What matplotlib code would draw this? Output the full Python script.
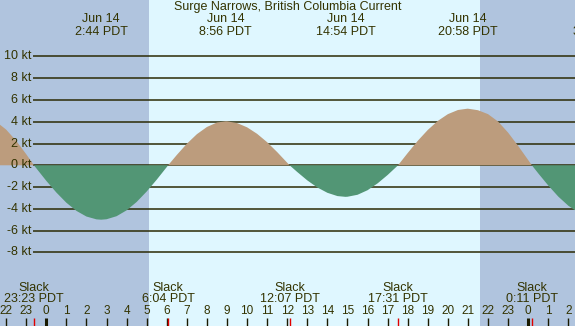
import matplotlib
matplotlib.use("Agg")
import matplotlib.pyplot as plt
import numpy as np

# current speed (kt), hours from Jun 14 00:00 PDT
hours = [-2.5, -2.0, -1.5, -1.0, -0.617, -0.5, 0.0, 0.5, 1.0, 1.5, 2.0, 2.5, 2.733,
         3.0, 3.5, 4.0, 4.5, 5.0, 5.5, 6.0, 6.067, 6.5, 7.0, 7.5, 8.0, 8.5, 8.933,
         9.0, 9.5, 10.0, 10.5, 11.0, 11.5, 12.0, 12.117, 12.5, 13.0, 13.5, 14.0, 14.5,
         14.9, 15.0, 15.5, 16.0, 16.5, 17.0, 17.5, 17.517, 18.0, 18.5, 19.0, 19.5,
         20.0, 20.5, 20.967, 21.0, 21.5, 22.0, 22.5, 23.0, 23.5, 24.0, 24.183, 24.5,
         25.0, 25.5, 26.0, 26.5]
speed = [4.01, 3.28, 2.25, 1.02, 0.0, -0.27, -1.43, -2.50, -3.44, -4.19, -4.71, -4.97, -5.0,
         -4.96, -4.68, -4.14, -3.37, -2.41, -1.32, -0.16, 0.0, 0.95, 1.98, 2.86, 3.52, 3.93, 4.04,
         4.04, 3.88, 3.49, 2.89, 2.12, 1.21, 0.23, 0.0, -0.62, -1.39, -2.04, -2.53, -2.83,
         -2.9, -2.89, -2.71, -2.29, -1.66, -0.89, -0.03, 0.0, 1.13, 2.25, 3.25, 4.08,
         4.70, 5.08, 5.2, 5.20, 5.06, 4.70, 4.02, 3.00, 1.78, 0.48, 0.0, -0.74,
         -1.86, -2.88, -3.72, -4.34]

# slack water events
slack_hours = [-0.617, 6.067, 12.117, 17.517, 24.183]
slack_labels = ["23:23 PDT", "6:04 PDT", "12:07 PDT", "17:31 PDT", "0:11 PDT"]

# max current events
max_hours = [2.733, 8.933, 14.9, 20.967, 27.55]
max_dates = ["Jun 14", "Jun 14", "Jun 14", "Jun 14", "Jun 15"]
max_labels = ["2:44 PDT", "8:56 PDT", "14:54 PDT", "20:58 PDT", "3:24 PDT"]

# daylight
sunrise = 5.12
sunset = 21.62

kt_levels = [10, 8, 6, 4, 2, 0, -2, -4, -6, -8]
hour_ticks = list(range(-2, 27))

NIGHT = "#b0c4de"
DAY = "#dff7ff"
FLOOD = "#bc9c7d"
EBB = "#529675"
INK = "#333300"
LINE = "#2b2b05"

plt.rcParams["font.family"] = ["Liberation Sans", "DejaVu Sans"]

fig = plt.figure(figsize=(5.75, 3.26), dpi=100)
ax = fig.add_axes([0, 0, 1, 1])
ax.set_xlim(-2.306, 26.33)
ax.set_ylim(-14.77, 15.19)
ax.axis("off")

ax.axvspan(-2.306, sunrise, color=NIGHT, zorder=0, lw=0)
ax.axvspan(sunrise, sunset, color=DAY, zorder=0, lw=0)
ax.axvspan(sunset, 26.33, color=NIGHT, zorder=0, lw=0)

for k in kt_levels:
    ax.plot([-0.662, 26.33], [k, k], color=LINE, lw=1.1, zorder=1,
            solid_capstyle="butt")
    ax.text(-0.76, k, f"{k} kt", ha="right", va="center", fontsize=9, color=INK)

h = np.array(hours)
s = np.array(speed)
ax.fill_between(h, 0, s, where=s >= 0, interpolate=True, color=FLOOD, lw=0, zorder=2)
ax.fill_between(h, 0, s, where=s <= 0, interpolate=True, color=EBB, lw=0, zorder=2)

ax.text(12.0, 14.55, "Surge Narrows, British Columbia Current", ha="center",
        va="center", fontsize=9, color=INK)
for t, d, lab in zip(max_hours, max_dates, max_labels):
    ax.text(t, 13.40, d, ha="center", va="center", fontsize=9, color=INK)
    ax.text(t, 12.28, lab, ha="center", va="center", fontsize=9, color=INK)

for t, lab in zip(slack_hours, slack_labels):
    ax.text(t, -11.25, "Slack", ha="center", va="center", fontsize=9, color=INK)
    ax.text(t, -12.32, lab, ha="center", va="center", fontsize=9, color=INK)

for hr in hour_ticks:
    lbl = str(hr % 24)
    ax.text(hr, -13.39, lbl, ha="center", va="center", fontsize=8.5, color=INK)
    midnight = hr % 24 == 0
    ax.plot([hr, hr], [-13.99, -14.77], color="#1a1a00", lw=2.2 if midnight else 1.0,
            zorder=3, solid_capstyle="butt")

for t in slack_hours:
    ax.plot([t, t], [-13.99, -14.77], color="#e00000", lw=1.0, zorder=4,
            solid_capstyle="butt")

fig.savefig("out.png", dpi=100)
